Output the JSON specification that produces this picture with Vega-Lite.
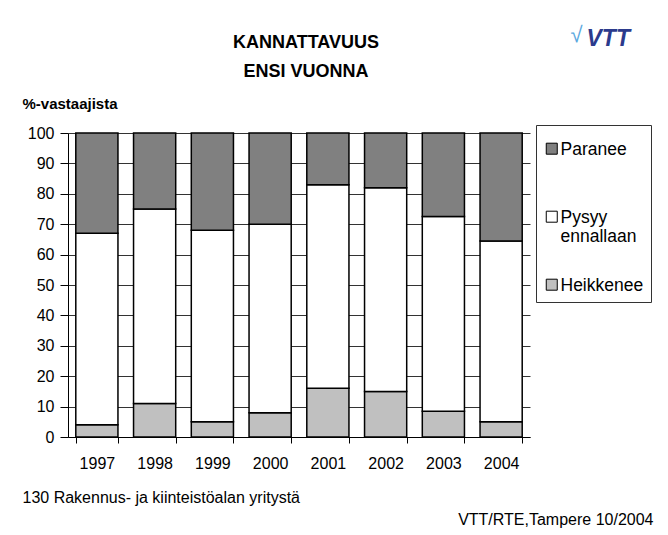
{
  "$schema": "https://vega.github.io/schema/vega-lite/v6.json",
  "width": 462,
  "height": 304,
  "autosize": {"type": "none"},
  "padding": {"left": 68, "top": 133, "right": 138, "bottom": 98},
  "background": "white",
  "config": {
    "font": "Liberation Sans",
    "view": {"stroke": null},
    "style": {"guide-label": {"lineHeight": 19}}
  },
  "title": {
    "text": ["KANNATTAVUUS", "ENSI VUONNA"],
    "fontSize": 18,
    "fontWeight": "bold",
    "font": "Liberation Sans",
    "color": "#000",
    "lineHeight": 29,
    "anchor": "middle",
    "frame": "group",
    "dx": 7,
    "dy": 58,
    "offset": 0
  },
  "data": {
    "values": [
      {"year": "1997", "cat": "Heikkenee", "o": 1, "value": 4},
      {"year": "1997", "cat": "Pysyy ennallaan", "o": 2, "value": 63},
      {"year": "1997", "cat": "Paranee", "o": 3, "value": 33},
      {"year": "1998", "cat": "Heikkenee", "o": 1, "value": 11},
      {"year": "1998", "cat": "Pysyy ennallaan", "o": 2, "value": 64},
      {"year": "1998", "cat": "Paranee", "o": 3, "value": 25},
      {"year": "1999", "cat": "Heikkenee", "o": 1, "value": 5},
      {"year": "1999", "cat": "Pysyy ennallaan", "o": 2, "value": 63},
      {"year": "1999", "cat": "Paranee", "o": 3, "value": 32},
      {"year": "2000", "cat": "Heikkenee", "o": 1, "value": 8},
      {"year": "2000", "cat": "Pysyy ennallaan", "o": 2, "value": 62},
      {"year": "2000", "cat": "Paranee", "o": 3, "value": 30},
      {"year": "2001", "cat": "Heikkenee", "o": 1, "value": 16},
      {"year": "2001", "cat": "Pysyy ennallaan", "o": 2, "value": 67},
      {"year": "2001", "cat": "Paranee", "o": 3, "value": 17},
      {"year": "2002", "cat": "Heikkenee", "o": 1, "value": 15},
      {"year": "2002", "cat": "Pysyy ennallaan", "o": 2, "value": 67},
      {"year": "2002", "cat": "Paranee", "o": 3, "value": 18},
      {"year": "2003", "cat": "Heikkenee", "o": 1, "value": 8.5},
      {"year": "2003", "cat": "Pysyy ennallaan", "o": 2, "value": 64},
      {"year": "2003", "cat": "Paranee", "o": 3, "value": 27.5},
      {"year": "2004", "cat": "Heikkenee", "o": 1, "value": 5},
      {"year": "2004", "cat": "Pysyy ennallaan", "o": 2, "value": 59.5},
      {"year": "2004", "cat": "Paranee", "o": 3, "value": 35.5}
    ]
  },
  "layer": [
    {
      "mark": {"type": "bar", "stroke": "#000", "strokeWidth": 1.5},
      "encoding": {
        "x": {
          "field": "year",
          "type": "nominal",
          "scale": {"paddingInner": 0.27, "paddingOuter": 0.135},
          "axis": {
            "orient": "bottom",
            "tickBand": "extent",
            "labelAngle": 0,
            "labelFontSize": 16,
            "labelColor": "#000",
            "labelPadding": 12,
            "tickSize": 6,
            "tickColor": "#000",
            "domainColor": "#000",
            "grid": false,
            "title": "130 Rakennus- ja kiinteistöalan yritystä",
            "titleFontSize": 16,
            "titleFontWeight": "normal",
            "titleColor": "#000",
            "titleAlign": "left",
            "titleAnchor": "start",
            "titleBaseline": "alphabetic",
            "titleX": -46,
            "titleY": 65
          }
        },
        "y": {
          "field": "value",
          "type": "quantitative",
          "stack": "zero",
          "scale": {"domain": [0, 100], "nice": false},
          "axis": {
            "orient": "left",
            "values": [0, 10, 20, 30, 40, 50, 60, 70, 80, 90, 100],
            "labelFontSize": 16,
            "labelColor": "#000",
            "labelPadding": 6,
            "tickSize": 8,
            "tickColor": "#000",
            "domainColor": "#000",
            "grid": true,
            "gridColor": "#333",
            "gridWidth": 1,
            "title": "%-vastaajista",
            "titleAngle": 0,
            "titleAlign": "left",
            "titleBaseline": "alphabetic",
            "titleX": -46,
            "titleY": -25,
            "titleFontSize": 15,
            "titleFontWeight": "bold",
            "titleColor": "#000"
          }
        },
        "color": {
          "field": "cat",
          "type": "nominal",
          "scale": {
            "domain": ["Paranee", "Pysyy ennallaan", "Heikkenee"],
            "range": ["#808080", "#ffffff", "#c0c0c0"]
          },
          "legend": {
            "orient": "none",
            "legendX": 468,
            "legendY": -8,
            "title": " ",
            "titleFontSize": 4,
            "titlePadding": 10,
            "symbolType": "M-1,-2.1H1V-0.1H-1Z",
            "symbolSize": 121,
            "symbolStrokeColor": "#000",
            "symbolStrokeWidth": 1,
            "labelFontSize": 17.5,
            "labelColor": "#000",
            "labelBaseline": "alphabetic",
            "labelOffset": 0,
            "labelLimit": 200,
            "labelExpr": "datum.label == 'Pysyy ennallaan' ? ['Pysyy', 'ennallaan'] : datum.label",
            "rowPadding": 30,
            "gridAlign": "all",
            "padding": 7,
            "strokeColor": "#333",
            "fillColor": "#ffffff"
          }
        },
        "order": {"field": "o", "type": "quantitative"}
      }
    },
    {
      "mark": {"type": "tick", "opacity": 0},
      "encoding": {
        "x": {
          "field": "year",
          "type": "nominal",
          "axis": {
            "orient": "top",
            "labels": false,
            "ticks": false,
            "domain": false,
            "grid": false,
            "title": "VTT",
            "titleFontSize": 23,
            "titleFontWeight": "bold",
            "titleFontStyle": "italic",
            "titleColor": "#2b3a8c",
            "titleAlign": "left",
            "titleAnchor": "start",
            "titleBaseline": "alphabetic",
            "titleX": 518,
            "titleY": -88
          }
        },
        "y": {
          "field": "value",
          "type": "quantitative",
          "axis": {
            "orient": "right",
            "labels": false,
            "ticks": false,
            "domain": false,
            "grid": false,
            "title": "VTT/RTE,Tampere 10/2004",
            "titleFontSize": 16,
            "titleFontWeight": "normal",
            "titleColor": "#000",
            "titleAngle": 0,
            "titleAlign": "right",
            "titleBaseline": "alphabetic",
            "titleX": 123,
            "titleY": 391
          }
        }
      }
    },
    {
      "mark": {"type": "tick", "opacity": 0},
      "encoding": {
        "x": {
          "field": "year",
          "type": "nominal",
          "axis": {
            "orient": "top",
            "labels": false,
            "ticks": false,
            "domain": false,
            "grid": false,
            "title": "√",
            "titleFontSize": 22,
            "titleFontWeight": "normal",
            "titleColor": "#5ba8e0",
            "titleAlign": "right",
            "titleAnchor": "start",
            "titleBaseline": "alphabetic",
            "titleX": 514,
            "titleY": -92
          }
        },
        "y": {
          "field": "value",
          "type": "quantitative",
          "axis": null
        }
      }
    }
  ],
  "resolve": {"axis": {"x": "independent", "y": "independent"}}
}
